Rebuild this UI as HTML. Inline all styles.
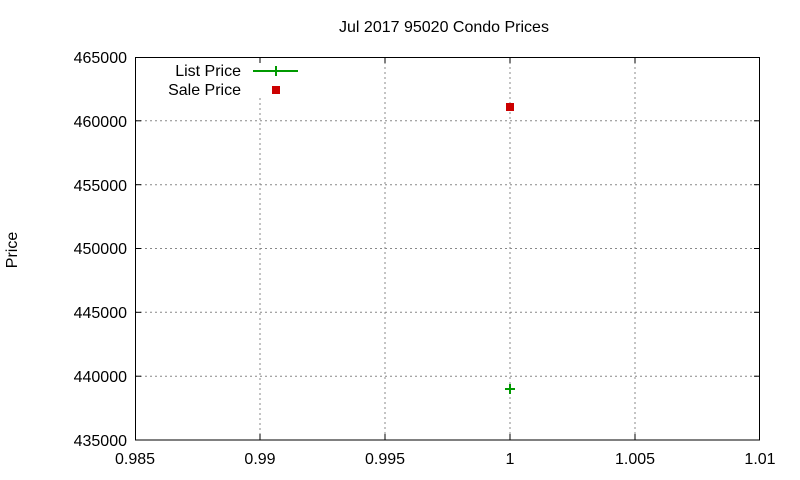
<!DOCTYPE html>
<html><head><meta charset="utf-8"><style>
body{margin:0;background:#fff}
svg{display:block;font-family:"Liberation Sans",Arial,sans-serif;font-size:16px}
</style></head><body>
<svg width="800" height="480" viewBox="0 0 800 480">
<rect width="800" height="480" fill="#fff"/>
<g stroke="#888" stroke-width="1" stroke-dasharray="2,3">
<line x1="260" y1="98" x2="260" y2="440"/>
<line x1="385" y1="57" x2="385" y2="440"/>
<line x1="510" y1="57" x2="510" y2="440"/>
<line x1="635" y1="57" x2="635" y2="440"/>
<line x1="135" y1="120.8" x2="760" y2="120.8"/>
<line x1="135" y1="184.7" x2="760" y2="184.7"/>
<line x1="135" y1="248.5" x2="760" y2="248.5"/>
<line x1="135" y1="312.3" x2="760" y2="312.3"/>
<line x1="135" y1="376.2" x2="760" y2="376.2"/>
</g>
<rect x="135.5" y="57.5" width="624" height="382.5" fill="none" stroke="#000"/>
<g stroke="#000">
<line x1="260" y1="440" x2="260" y2="434"/><line x1="260" y1="57" x2="260" y2="63"/>
<line x1="385" y1="440" x2="385" y2="434"/><line x1="385" y1="57" x2="385" y2="63"/>
<line x1="510" y1="440" x2="510" y2="434"/><line x1="510" y1="57" x2="510" y2="63"/>
<line x1="635" y1="440" x2="635" y2="434"/><line x1="635" y1="57" x2="635" y2="63"/>
<line x1="135" y1="120.8" x2="141" y2="120.8"/><line x1="760" y1="120.8" x2="754" y2="120.8"/>
<line x1="135" y1="184.7" x2="141" y2="184.7"/><line x1="760" y1="184.7" x2="754" y2="184.7"/>
<line x1="135" y1="248.5" x2="141" y2="248.5"/><line x1="760" y1="248.5" x2="754" y2="248.5"/>
<line x1="135" y1="312.3" x2="141" y2="312.3"/><line x1="760" y1="312.3" x2="754" y2="312.3"/>
<line x1="135" y1="376.2" x2="141" y2="376.2"/><line x1="760" y1="376.2" x2="754" y2="376.2"/>
</g>
<g text-anchor="end">
<text x="127" y="63">465000</text>
<text x="127" y="127">460000</text>
<text x="127" y="191">455000</text>
<text x="127" y="254">450000</text>
<text x="127" y="318">445000</text>
<text x="127" y="382">440000</text>
<text x="127" y="446">435000</text>
</g>
<g text-anchor="middle">
<text x="135" y="464">0.985</text>
<text x="260" y="464">0.99</text>
<text x="385" y="464">0.995</text>
<text x="510" y="464">1</text>
<text x="635" y="464">1.005</text>
<text x="760" y="464">1.01</text>
<text x="444" y="32">Jul 2017 95020 Condo Prices</text>
</g>
<text x="17" y="250" text-anchor="middle" transform="rotate(-90 17 250)">Price</text>
<g text-anchor="end">
<text x="241" y="76">List Price</text>
<text x="241" y="95">Sale Price</text>
</g>
<g stroke="#009900" stroke-width="2">
<line x1="253" y1="71" x2="298" y2="71"/>
<line x1="276" y1="66" x2="276" y2="76"/>
<line x1="505" y1="389" x2="515" y2="389"/>
<line x1="510" y1="384" x2="510" y2="394"/>
</g>
<rect x="272" y="86" width="8" height="8" fill="#cc0000"/>
<rect x="506" y="103" width="8" height="8" fill="#cc0000"/>
</svg>
</body></html>
